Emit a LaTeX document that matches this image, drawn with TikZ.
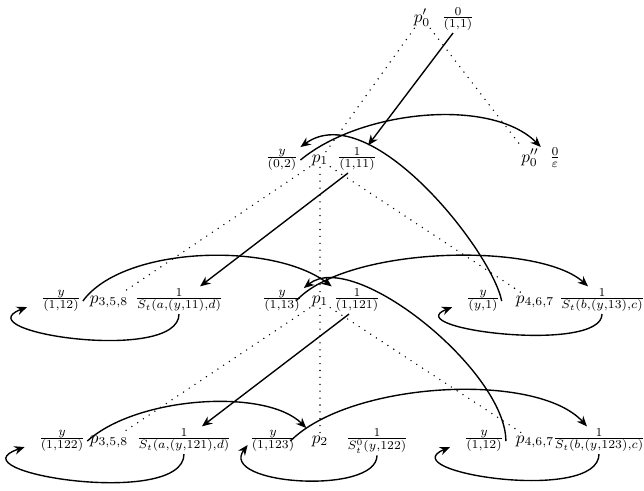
\documentclass[tikz,border=0pt]{standalone}
\usetikzlibrary{arrows.meta}
\begin{document}
\begin{tikzpicture}[x=0.58pt,y=-0.58pt,
  every node/.style={anchor=base,inner sep=1pt},
  arr/.style={-{Stealth[length=6pt,width=5pt]},line width=0.8pt},
  tree/.style={dash pattern=on 0pt off 4pt,line cap=round,line width=0.9pt}]
  \useasboundingbox (0,0) rectangle (644,491);
  \node (p0a) at (422,22) {$p'_0$};
  \node (f0a) at (458,22) {$\frac{0}{(1,1)}$};
  \node (y1a) at (282,162) {$\frac{y}{(0,2)}$};
  \node (p1a) at (320,162) {$p_1$};
  \node (f1a) at (357,162) {$\frac{1}{(1,11)}$};
  \node (p0b) at (530,162) {$p''_0$};
  \node (f0b) at (555,162) {$\frac{0}{\varepsilon}$};
  \node (y2a) at (61,303) {$\frac{y}{(1,12)}$};
  \node (p2a) at (109,303) {$p_{3,5,8}$};
  \node (s2a) at (179,303) {$\frac{1}{S_t(a,(y,11),d)}$};
  \node (y2b) at (282,303) {$\frac{y}{(1,13)}$};
  \node (p2b) at (320,303) {$p_1$};
  \node (f2b) at (357,303) {$\frac{1}{(1,121)}$};
  \node (y2c) at (483,303) {$\frac{y}{(y,1)}$};
  \node (p2c) at (535,303) {$p_{4,6,7}$};
  \node (s2c) at (602,303) {$\frac{1}{S_t(b,(y,13),c)}$};
  \node (y3a) at (62,443) {$\frac{y}{(1,122)}$};
  \node (p3a) at (109,443) {$p_{3,5,8}$};
  \node (s3a) at (184,443) {$\frac{1}{S_t(a,(y,121),d)}$};
  \node (y3b) at (273,443) {$\frac{y}{(1,123)}$};
  \node (p3b) at (320,443) {$p_2$};
  \node (s3b) at (377,443) {$\frac{1}{S^0_t(y,122)}$};
  \node (y3c) at (484,443) {$\frac{y}{(1,12)}$};
  \node (p3c) at (535,443) {$p_{4,6,7}$};
  \node (s3c) at (599,443) {$\frac{1}{S_t(b,(y,123),c)}$};
  \draw[tree] (p0a)--(p1a);
  \draw[tree] (p0a)--(p0b);
  \draw[tree] (p1a)--(p2a);
  \draw[tree] (p1a)--(p2b);
  \draw[tree] (p1a)--(p2c);
  \draw[tree] (p2b)--(p3a);
  \draw[tree] (p2b)--(p3b);
  \draw[tree] (p2b)--(p3c);
  \draw[arr] ([xshift=-2.9pt]f0a.south)--([xshift=6.4pt]f1a.north);
  \draw[arr] (y1a.east) .. controls +(60,-50) and +(-50,-50) .. (p0b.north east);
  \draw[arr] (y2c.east) .. controls +(-10,-50) and +(70,-50) .. (y1a.north east);
  \draw[arr] ([xshift=-5.2pt]f1a.south)--([xshift=12.2pt]s2a.north);
  \draw[arr] (s2a.south) .. controls +(0,50) and +(-65,25) .. ([shift={(-7pt,-3.5pt)}]y2a.west);
  \draw[arr] (y2a.east) .. controls +(40,-55) and +(-60,-45) .. (f2b.north west);
  \draw[arr] ([xshift=-4.6pt]y2b.east) .. controls +(50,-55) and +(-50,-45) .. ([xshift=-8.1pt]s2c.north);
  \draw[arr] (s2c.south) .. controls +(0,40) and +(-55,22) .. ([shift={(-7pt,-3.5pt)}]y2c.west);
  \draw[arr] (y3c.east) .. controls +(0,-70) and +(50,-40) .. (y2b.north east);
  \draw[arr] ([xshift=-4.6pt]f2b.south)--([xshift=10.4pt]s3a.north);
  \draw[arr] (y3a.east) .. controls +(50,-45) and +(-40,-40) .. ([xshift=4.6pt]y3b.north east);
  \draw[arr] ([xshift=-4.6pt]y3b.east) .. controls +(60,-60) and +(-50,-55) .. ([xshift=-7pt]s3c.north);
  \draw[arr] (s3a.south) .. controls +(0,55) and +(-75,25) .. ([shift={(-7pt,-3.5pt)}]y3a.west);
  \draw[arr] (s3b.south) .. controls +(0,40) and +(-30,40) .. ([yshift=-2.3pt]y3b.west);
  \draw[arr] (s3c.south) .. controls +(0,50) and +(-60,25) .. ([shift={(-7pt,-3.5pt)}]y3c.west);
\end{tikzpicture}
\end{document}
